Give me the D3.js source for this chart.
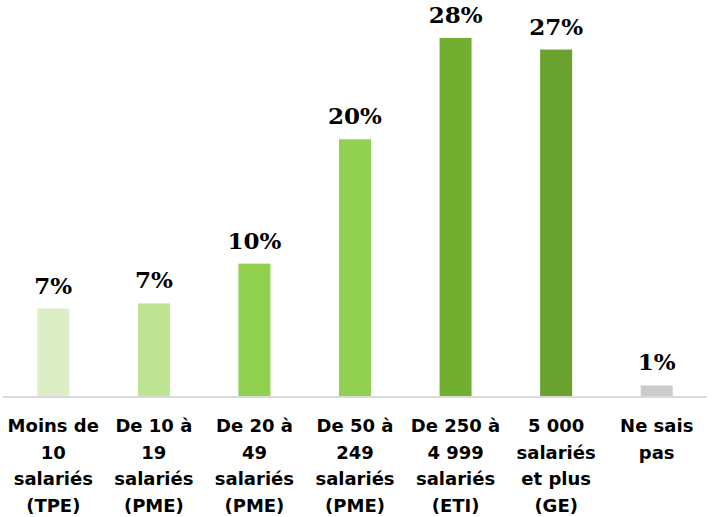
<!DOCTYPE html>
<html>
<head>
<meta charset="utf-8">
<script src="https://cdn.jsdelivr.net/npm/d3@7"></script>
<style>
  body { margin: 0; background: #fff; }
</style>
</head>
<body>
<div class="chart"></div>
<script>
const categories = [
  ["Moins de", "10", "salariés", "(TPE)"],
  ["De 10 à", "19", "salariés", "(PME)"],
  ["De 20 à", "49", "salariés", "(PME)"],
  ["De 50 à", "249", "salariés", "(PME)"],
  ["De 250 à", "4 999", "salariés", "(ETI)"],
  ["5 000", "salariés", "et plus", "(GE)"],
  ["Ne sais", "pas"]
];
const values = [6.9, 7.3, 10.4, 20.1, 28, 27.1, 0.9];
const colors = ["#dbeec6", "#bde393", "#92d050", "#92d050", "#72ae30", "#69a22e", "#cbcbcb"];

const width = 712;
const height = 517;
const baseY = 397;

const svg = d3.select(".chart")
  .append("svg")
  .attr("width", width)
  .attr("height", height);

const x = d3.scaleBand()
  .domain(d3.range(values.length))
  .range([3, 707])
  .paddingInner(0.682)
  .paddingOuter(0.341);

const y = d3.scaleLinear()
  .domain([0, 28])
  .range([baseY, 38]);

svg.append("g")
  .selectAll("rect")
  .data(values)
  .join("rect")
  .attr("x", (d, i) => x(i))
  .attr("y", d => y(d))
  .attr("width", x.bandwidth())
  .attr("height", d => y(0) - y(d))
  .attr("fill", (d, i) => colors[i]);

// baseline
svg.append("line")
  .attr("x1", 3)
  .attr("x2", 707)
  .attr("y1", y(0))
  .attr("y2", y(0))
  .attr("stroke", "#d9d9d9")
  .attr("stroke-width", 2);

// value labels
svg.append("g")
  .selectAll("text")
  .data(values)
  .join("text")
  .attr("x", (d, i) => x(i) + x.bandwidth() / 2)
  .attr("y", d => y(d) - 15)
  .attr("text-anchor", "middle")
  .style("font-family", "'DejaVu Serif', serif")
  .style("font-weight", "bold")
  .style("font-size", "23px")
  .style("fill", "#000")
  .text(d => d3.format(".0f")(d) + "%");

// category labels
const cat = svg.append("g")
  .selectAll("text")
  .data(categories)
  .join("text")
  .attr("text-anchor", "middle")
  .style("font-family", "'DejaVu Sans', sans-serif")
  .style("font-weight", "bold")
  .style("font-size", "18px")
  .style("fill", "#000");

cat.selectAll("tspan")
  .data((d, i) => d.map(line => ({ line, i })))
  .join("tspan")
  .attr("x", d => x(d.i) + x.bandwidth() / 2)
  .attr("y", (d, j) => 432 + j * 26.7)
  .text(d => d.line);
</script>
</body>
</html>
